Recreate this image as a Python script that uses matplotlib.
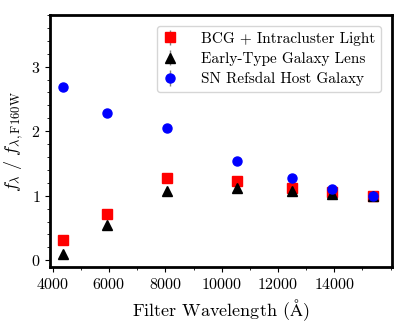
import matplotlib
matplotlib.use("Agg")
import matplotlib.pyplot as plt
from matplotlib.ticker import AutoMinorLocator
import numpy as np

plt.rcParams.update({
    "font.family": "serif", "font.serif": ["cmr10"], "mathtext.fontset": "cm",
    "axes.formatter.use_mathtext": True, "font.size": 11,
})

wavelength = [4350, 5920, 8060, 10550, 12500, 13920, 15370]
bcg_icl = [0.32, 0.71, 1.28, 1.23, 1.12, 1.05, 1.00]
bcg_err = [0.02, 0.02, 0.02, 0.02, 0.02, 0.02, 0.02]
lens = [0.10, 0.54, 1.07, 1.12, 1.07, 1.02, 1.00]
lens_err = [0.02, 0.02, 0.02, 0.02, 0.02, 0.02, 0.02]
host = [2.68, 2.28, 2.05, 1.54, 1.27, 1.11, 1.00]
host_err = [0.02, 0.02, 0.02, 0.02, 0.02, 0.02, 0.02]

fig, ax = plt.subplots(figsize=(4.07, 3.26), dpi=100)
fig.subplots_adjust(left=0.123, right=0.963, top=0.954, bottom=0.18)

ax.errorbar(wavelength, bcg_icl, yerr=bcg_err, fmt="s", color="red", ms=6.5,
            ecolor="gray", elinewidth=1, label="BCG + Intracluster Light")
ax.errorbar(wavelength, lens, yerr=lens_err, fmt="^", color="black", ms=6.5,
            ecolor="gray", elinewidth=1, label="Early-Type Galaxy Lens")
ax.errorbar(wavelength, host, yerr=host_err, fmt="o", color="blue", ms=6.5,
            ecolor="gray", elinewidth=1, label="SN Refsdal Host Galaxy")

ax.set_xlim(3900, 16050)
ax.set_ylim(-0.11, 3.8)
ax.set_xticks(np.arange(4000, 15000, 2000))
ax.set_yticks([0, 1, 2, 3])
ax.xaxis.set_minor_locator(AutoMinorLocator(2))
ax.yaxis.set_minor_locator(AutoMinorLocator(5))
ax.tick_params(labelsize=11.5)
for s in ax.spines.values():
    s.set_linewidth(2)

ax.set_xlabel(r"Filter Wavelength ($\mathrm{\AA}$)", fontsize=13)
ax.set_ylabel(r"$f_\lambda\ /\ f_{\lambda,\mathrm{F160W}}$", fontsize=13)
ax.legend(loc="upper right", fontsize=11, handlelength=1.0, handletextpad=1.5,
          labelspacing=0.4, borderaxespad=0.7)

fig.savefig("out.png")
